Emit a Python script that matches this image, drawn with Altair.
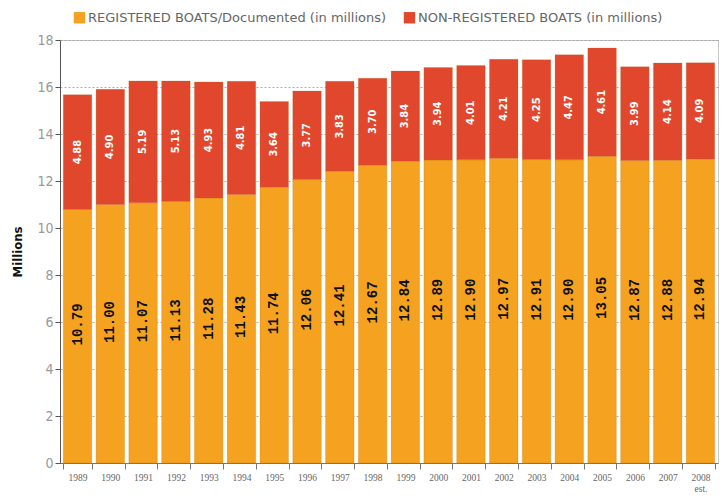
import altair as alt
import pandas as pd

# Boat counts by year, in millions
years = ["1989", "1990", "1991", "1992", "1993", "1994", "1995", "1996", "1997", "1998",
         "1999", "2000", "2001", "2002", "2003", "2004", "2005", "2006", "2007", "2008"]
registered = [10.79, 11.00, 11.07, 11.13, 11.28, 11.43, 11.74, 12.06, 12.41, 12.67,
              12.84, 12.89, 12.90, 12.97, 12.91, 12.90, 13.05, 12.87, 12.88, 12.94]
non_registered = [4.88, 4.90, 5.19, 5.13, 4.93, 4.81, 3.64, 3.77, 3.83, 3.70,
                  3.84, 3.94, 4.01, 4.21, 4.25, 4.47, 4.61, 3.99, 4.14, 4.09]

REG = "REGISTERED BOATS/Documented (in millions)"
NON = "NON-REGISTERED BOATS (in millions)"
ORANGE = "#F4A21F"
RED = "#E1472D"

rows = []
for y, r, n in zip(years, registered, non_registered):
    rows.append({"year": y, "type": REG, "value": r, "order": 0})
    rows.append({"year": y, "type": NON, "value": n, "order": 1})
long_df = pd.DataFrame(rows)

wide_df = pd.DataFrame({"year": years, "reg": registered, "non": non_registered})

x_enc = alt.X(
    "year:N",
    sort=years,
    title=None,
    scale=alt.Scale(paddingInner=0.13, paddingOuter=0.1),
    axis=alt.Axis(
        labelAngle=0,
        tickBand="extent",
        tickSize=6,
        tickColor="#777",
        domainColor="#777",
        labelColor="#666",
        labelFont="Liberation Serif",
        labelFontSize=9.5,
        labelPadding=3,
        labelExpr="datum.value == '2008' ? ['2008', 'est.'] : datum.label",
    ),
)

bars = alt.Chart(long_df).mark_bar(stroke="#b06a10", strokeWidth=0.4, strokeOpacity=0.5).encode(
    x=x_enc,
    y=alt.Y(
        "sum(value):Q",
        title="Millions",
        stack="zero",
        scale=alt.Scale(domain=[0, 18], nice=False),
        axis=alt.Axis(
            values=list(range(0, 19, 2)),
            grid=True,
            gridDash=[2, 2],
            gridColor="#999",
            gridOpacity=0.8,
            tickSize=5,
            tickColor="#555",
            domainColor="#555",
            labelColor="#999",
            labelFont="DejaVu Sans Condensed",
            labelFontSize=14,
            labelPadding=2,
            titleFont="DejaVu Sans Condensed",
            titleFontSize=13,
            titleFontWeight="bold",
            titleColor="#111",
            titlePadding=12,
        ),
    ),
    color=alt.Color(
        "type:N",
        scale=alt.Scale(domain=[REG, NON], range=[ORANGE, RED]),
        legend=alt.Legend(
            title=None,
            orient="none",
            legendX=13,
            legendY=-29,
            direction="horizontal",
            symbolType="square",
            symbolSize=130,
            symbolStrokeWidth=0,
            labelFont="DejaVu Sans",
            labelFontSize=13,
            labelColor="#666",
            labelOffset=2,
            labelLimit=0,
            columnPadding=16,
        ),
    ),
    order=alt.Order("order:Q"),
)

# White labels inside the non-registered segment
non_labels = alt.Chart(wide_df).transform_calculate(
    ypos="datum.reg + datum.non / 2",
    txt="format(datum.non, '.2f')",
).mark_text(
    angle=270, color="white", font="DejaVu Sans Condensed", fontWeight="bold", fontSize=11,
    align="center", baseline="middle",
).encode(
    x=alt.X("year:N", sort=years),
    y=alt.Y("ypos:Q"),
    text="txt:N",
)

# Dark labels inside the registered segment
reg_labels = alt.Chart(wide_df).transform_calculate(
    ypos="datum.reg / 2 + 0.5",
    txt="format(datum.reg, '.2f')",
).mark_text(
    angle=270, color="#111", font="Liberation Mono", fontWeight="bold", fontSize=14,
    align="center", baseline="middle",
).encode(
    x=alt.X("year:N", sort=years),
    y=alt.Y("ypos:Q"),
    text="txt:N",
)

chart = alt.layer(bars, non_labels, reg_labels).properties(
    width=658,
    height=423,
    autosize=alt.AutoSizeParams(type="none"),
    padding={"left": 60, "top": 40, "right": 9, "bottom": 33},
    background="white",
).configure_view(
    stroke="#c8c8c8",
    strokeWidth=1,
)

chart.save("out.html", embed_options={"renderer": "svg", "actions": False})
